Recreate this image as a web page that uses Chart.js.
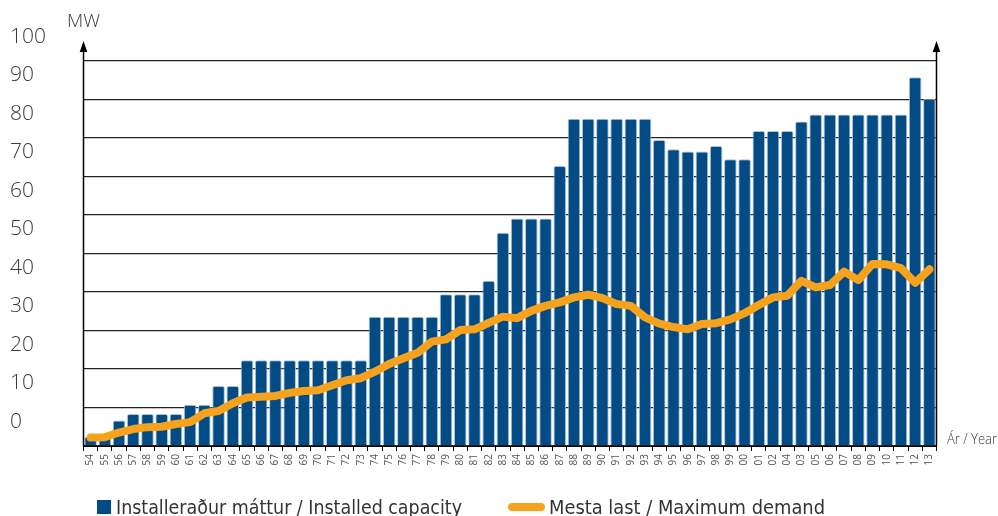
<!DOCTYPE html>
<html>
<head>
<meta charset="utf-8">
<script src="https://cdn.jsdelivr.net/npm/chart.js@4/dist/chart.umd.min.js"></script>
<style>
  html, body { margin: 0; padding: 0; background: #fff; overflow: hidden; }
  #wrap { position: relative; width: 998px; height: 516px; }
  canvas { position: absolute; left: 0; top: 0; }
  .lg { position: absolute; font-family: 'Liberation Sans Narrow', 'DejaVu Sans Condensed', 'Liberation Sans', sans-serif; font-size: 20px; color: #333; white-space: nowrap; line-height: 20px; transform-origin: 0 50%; }
  .sw { position: absolute; }
</style>
</head>
<body>
<div id="wrap">
  <canvas id="c" width="998" height="516"></canvas>
  <div class="sw" style="left:97px;top:500px;width:14px;height:14px;background:#024b85;"></div>
  <div class="lg" id="t1" style="left:116px;top:497px;" data-w="346">Installeraður máttur / Installed capacity</div>
  <div class="sw" style="left:508px;top:503px;width:37px;height:8px;border-radius:4px;background:#f6a21c;"></div>
  <div class="lg" id="t2" style="left:549px;top:497px;" data-w="276">Mesta last / Maximum demand</div>
</div>
<script>
const years = ['54','55','56','57','58','59','60','61','62','63','64','65','66','67','68','69','70','71','72','73','74','75','76','77','78','79','80','81','82','83','84','85','86','87','88','89','90','91','92','93','94','95','96','97','98','99','00','01','02','04','03','05','06','07','08','09','10','11','12','13'];

const installedCapacity = [2.4,2.4,6.6,8.3,8.3,8.3,8.3,10.7,10.7,15.6,15.6,22.3,22.3,22.3,22.3,22.3,22.3,22.3,22.3,22.3,33.6,33.6,33.6,33.6,33.6,39.4,39.4,39.4,42.9,55.4,59.1,59.1,59.1,72.7,85.0,85.0,85.0,85.0,85.0,85.0,79.5,77.1,76.5,76.5,77.9,74.5,74.5,81.8,81.8,81.8,84.3,86.1,86.1,86.1,86.1,86.1,86.1,86.1,95.8,90.2];

const maximumDemand = [2.2,2.3,3.5,4.4,4.9,5.0,5.7,6.2,8.5,9.1,11.1,12.6,12.8,13.0,13.8,14.3,14.5,15.8,17.1,17.6,19.3,21.3,22.8,24.2,27.1,27.7,30.1,30.3,32.0,33.6,33.2,35.1,36.4,37.3,38.6,39.3,38.4,36.9,36.4,33.4,31.8,30.9,30.3,31.7,31.9,32.9,34.5,36.6,38.6,39.0,42.9,41.2,41.8,45.3,43.1,47.3,47.2,46.2,42.4,45.9];

const yTicks = [0,10,20,30,40,50,60,70,80,90,100];

const seriesNames = ['Installeraður máttur / Installed capacity', 'Mesta last / Maximum demand'];
const unitLabel = 'MW';
const xAxisLabel = 'Ár / Year';

function fitText(ctx, text, x, y, targetW) {
  const w = ctx.measureText(text).width;
  const s = Math.min(1, targetW / w);
  ctx.save();
  ctx.translate(x, y);
  ctx.scale(s, 1);
  ctx.fillText(text, 0, 0);
  ctx.restore();
}

const extras = {
  id: 'extras',
  afterDraw(chart) {
    const ctx = chart.ctx;
    const a = chart.chartArea;
    ctx.save();
    ctx.strokeStyle = '#000';
    ctx.fillStyle = '#000';
    ctx.lineWidth = 1.5;
    [a.left, a.right].forEach(x => {
      ctx.beginPath();
      ctx.moveTo(x, a.bottom);
      ctx.lineTo(x, 50);
      ctx.stroke();
      ctx.beginPath();
      ctx.moveTo(x, 41);
      ctx.lineTo(x - 3.8, 52);
      ctx.lineTo(x + 3.8, 52);
      ctx.closePath();
      ctx.fill();
    });
    ctx.fillStyle = '#3a3a3a';
    ctx.font = '300 19px "Open Sans"';
    ctx.textBaseline = 'alphabetic';
    ctx.textAlign = 'left';
    fitText(ctx, unitLabel, 67, 27, 33);
    ctx.font = '300 14px "Open Sans"';
    ctx.textBaseline = 'middle';
    fitText(ctx, xAxisLabel, 947, 440, 50);
    ctx.restore();
  }
};

new Chart(document.getElementById('c'), {
  data: {
    labels: years,
    datasets: [
      {
        type: 'line',
        label: seriesNames[1],
        data: maximumDemand,
        borderColor: '#f6a21c',
        borderWidth: 8,
        borderCapStyle: 'round',
        borderJoinStyle: 'round',
        pointRadius: 0,
        tension: 0,
        order: 0
      },
      {
        type: 'bar',
        label: seriesNames[0],
        data: installedCapacity,
        backgroundColor: '#024b85',
        borderColor: '#a9c1d8',
        borderWidth: 1,
        borderRadius: { topLeft: 2, topRight: 2, bottomLeft: 0, bottomRight: 0 },
        borderSkipped: 'bottom',
        barPercentage: 0.885,
        categoryPercentage: 1.0,
        order: 1
      }
    ]
  },
  options: {
    responsive: false,
    devicePixelRatio: 1,
    animation: false,
    layout: { padding: { left: 10, right: 61.5, top: 61, bottom: 40 } },
    plugins: { legend: { display: false }, tooltip: { enabled: false } },
    scales: {
      x: {
        offset: true,
        afterFit(s) { s.height = 30; },
        grid: { display: true, drawOnChartArea: false, drawTicks: true, tickLength: 5, color: '#000', offset: true, lineWidth: 1 },
        border: { display: true, color: '#000', width: 1 },
        ticks: { autoSkip: false, maxRotation: 90, minRotation: 90, padding: 3, color: '#555', font: { family: 'Open Sans', size: 10 } }
      },
      y: {
        min: 0,
        max: 100,
        afterFit(s) { s.width = 73.5; },
        afterBuildTicks(s) { s.ticks = yTicks.map(v => ({ value: v })); },
        grid: { color: '#222', lineWidth: 1.3, drawTicks: false },
        border: { display: false },
        ticks: { crossAlign: 'far', labelOffset: -24, padding: 0, color: '#3a3a3a', font: { family: 'Open Sans', size: 21, weight: '300' } }
      }
    }
  },
  plugins: [extras]
});

function fitLegend() {
  document.querySelectorAll('.lg').forEach(el => {
    const target = parseFloat(el.dataset.w);
    const w = el.getBoundingClientRect().width;
    if (w > 0) el.style.transform = 'scaleX(' + (target / w) + ')';
  });
}
fitLegend();
</script>
</body>
</html>
